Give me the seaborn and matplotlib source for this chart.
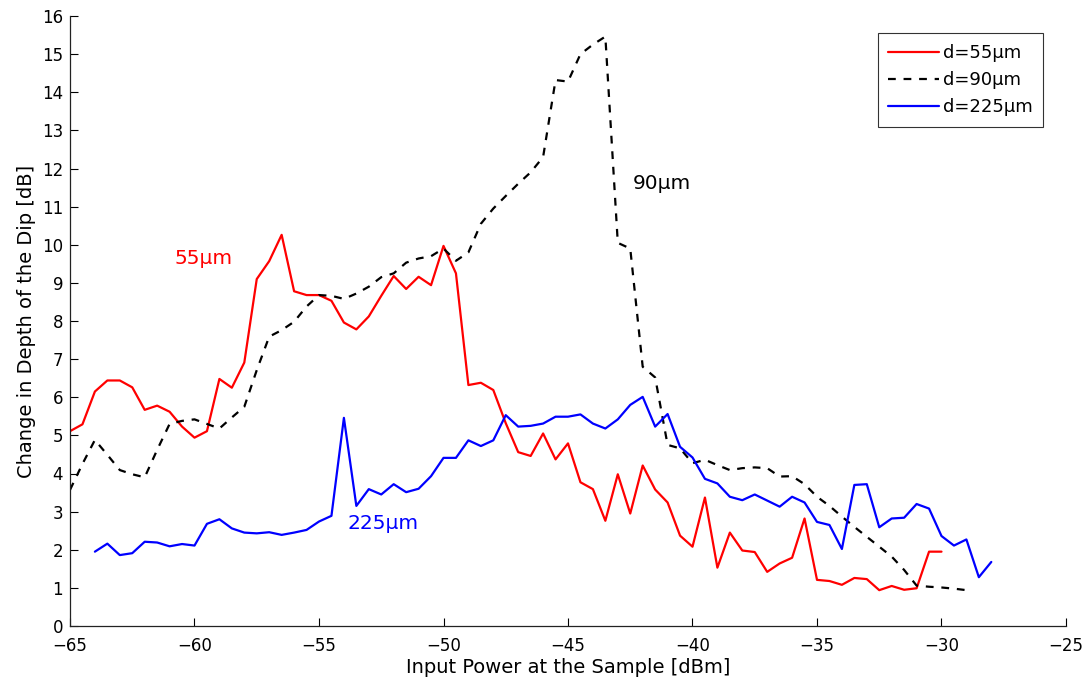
import numpy as np
import pandas as pd
import matplotlib
matplotlib.use("Agg")
import matplotlib.pyplot as plt
import seaborn as sns

# ---------------- data ----------------
x_55 = [-65, -64.5, -64, -63.5, -63, -62.5, -62, -61.5, -61, -60.5, -60, -59.5, -59, -58.5,
        -58, -57.5, -57, -56.5, -56, -55.5, -55, -54.5, -54, -53.5, -53, -52.5, -52, -51.5,
        -51, -50.5, -50, -49.5, -49, -48.5, -48, -47.5, -47, -46.5, -46, -45.5, -45, -44.5,
        -44, -43.5, -43, -42.5, -42, -41.5, -41, -40.5, -40, -39.5, -39, -38.5, -38, -37.5,
        -37, -36.5, -36, -35.5, -35, -34.5, -34, -33.5, -33, -32.5, -32, -31.5, -31, -30.5, -30]
y_55 = [5.11, 5.29, 6.15, 6.44, 6.44, 6.26, 5.67, 5.78, 5.62, 5.23, 4.94, 5.11, 6.48, 6.25,
        6.91, 9.10, 9.57, 10.26, 8.78, 8.68, 8.68, 8.53, 7.96, 7.78, 8.12, 8.66, 9.18, 8.84,
        9.16, 8.94, 9.97, 9.25, 6.32, 6.38, 6.19, 5.32, 4.56, 4.46, 5.05, 4.37, 4.79, 3.77,
        3.59, 2.76, 3.98, 2.95, 4.21, 3.58, 3.24, 2.37, 2.08, 3.37, 1.53, 2.45, 1.98, 1.94,
        1.42, 1.64, 1.79, 2.82, 1.21, 1.18, 1.08, 1.26, 1.23, 0.94, 1.05, 0.95, 0.99, 1.95, 1.95]

x_90 = [-65, -64.5, -64, -63.5, -63, -62.5, -62, -61.5, -61, -60.5, -60, -59.5, -59, -58.5,
        -58, -57.5, -57, -56.5, -56, -55.5, -55, -54.5, -54, -53.5, -53, -52.5, -52, -51.5,
        -51, -50.5, -50, -49.5, -49, -48.5, -48, -47.5, -47, -46.5, -46, -45.5, -45, -44.5,
        -44, -43.5, -43, -42.5, -42, -41.5, -41, -40.5, -40, -39.5, -39, -38.5, -38, -37.5,
        -37, -36.5, -36, -35.5, -35, -34.5, -34, -33.5, -33, -32.5, -32, -31.5, -31, -30.5,
        -30, -29.5, -29]
y_90 = [3.57, 4.25, 4.88, 4.49, 4.09, 3.98, 3.90, 4.62, 5.30, 5.38, 5.42, 5.30, 5.18, 5.47,
        5.75, 6.71, 7.59, 7.76, 7.98, 8.38, 8.68, 8.66, 8.58, 8.72, 8.90, 9.15, 9.25, 9.53,
        9.64, 9.70, 9.90, 9.58, 9.80, 10.55, 10.95, 11.28, 11.60, 11.90, 12.30, 14.32, 14.28, 15.00,
        15.25, 15.46, 10.05, 9.90, 6.80, 6.52, 4.75, 4.66, 4.27, 4.36, 4.22, 4.09, 4.14, 4.16,
        4.14, 3.92, 3.93, 3.72, 3.39, 3.15, 2.87, 2.60, 2.34, 2.08, 1.82, 1.47, 1.06, 1.03,
        1.01, 0.98, 0.94]

x_225 = [-64, -63.5, -63, -62.5, -62, -61.5, -61, -60.5, -60, -59.5, -59, -58.5, -58, -57.5,
         -57, -56.5, -56, -55.5, -55, -54.5, -54, -53.5, -53, -52.5, -52, -51.5, -51, -50.5,
         -50, -49.5, -49, -48.5, -48, -47.5, -47, -46.5, -46, -45.5, -45, -44.5, -44, -43.5,
         -43, -42.5, -42, -41.5, -41, -40.5, -40, -39.5, -39, -38.5, -38, -37.5, -37, -36.5,
         -36, -35.5, -35, -34.5, -34, -33.5, -33, -32.5, -32, -31.5, -31, -30.5, -30, -29.5,
         -29, -28.5, -28]
y_225 = [1.95, 2.16, 1.86, 1.91, 2.21, 2.19, 2.09, 2.15, 2.11, 2.68, 2.80, 2.56, 2.45, 2.43,
         2.46, 2.39, 2.45, 2.52, 2.74, 2.89, 5.46, 3.15, 3.59, 3.45, 3.72, 3.51, 3.60, 3.93,
         4.41, 4.41, 4.87, 4.72, 4.87, 5.53, 5.23, 5.25, 5.31, 5.49, 5.49, 5.55, 5.31, 5.18,
         5.42, 5.80, 6.01, 5.23, 5.56, 4.70, 4.42, 3.86, 3.74, 3.39, 3.30, 3.45, 3.29, 3.13,
         3.39, 3.24, 2.73, 2.65, 2.02, 3.70, 3.72, 2.59, 2.82, 2.84, 3.20, 3.08, 2.36, 2.11,
         2.27, 1.28, 1.68]

legend_labels = ["d=55\u00b5m", "d=90\u00b5m", "d=225\u00b5m"]
annot_texts = ["55\u00b5m", "90\u00b5m", "225\u00b5m"]
annot_x = [-60.8, -42.4, -53.85]
annot_y = [9.65, 11.6, 2.7]
x_ticks = [-65, -60, -55, -50, -45, -40, -35, -30, -25]
y_ticks = list(range(0, 17))

# ---------------- style ----------------
sns.set_style("ticks")
plt.rcParams['font.family'] = ['DejaVu Sans']
plt.rcParams['xtick.direction'] = 'in'
plt.rcParams['ytick.direction'] = 'in'
plt.rcParams['text.color'] = 'black'
plt.rcParams['axes.labelcolor'] = 'black'
plt.rcParams['xtick.color'] = 'black'
plt.rcParams['ytick.color'] = 'black'

fig = plt.figure(figsize=(10.9, 6.84), dpi=100)
ax = fig.add_axes([70 / 1090, 1 - 626 / 684, 996 / 1090, 610 / 684])

colors = ["#ff0000", "#000000", "#0000ff"]
df55 = pd.DataFrame({"x": x_55, "y": y_55})
df90 = pd.DataFrame({"x": x_90, "y": y_90})
df225 = pd.DataFrame({"x": x_225, "y": y_225})

sns.lineplot(data=df55, x="x", y="y", ax=ax, color=colors[0], lw=1.6, label=legend_labels[0])
sns.lineplot(data=df90, x="x", y="y", ax=ax, color=colors[1], lw=1.6, label=legend_labels[1])
sns.lineplot(data=df225, x="x", y="y", ax=ax, color=colors[2], lw=1.6, label=legend_labels[2])
ax.lines[1].set_dashes([3.5, 3.5])

ax.set_xlim(-65, -25)
ax.set_ylim(0, 16)
ax.set_xticks(x_ticks)
ax.set_yticks(y_ticks)
ax.tick_params(axis='both', labelsize=12, length=6, width=0.8, colors='black')
ax.tick_params(axis='x', pad=8)
ax.tick_params(axis='y', pad=5)
for s in ['top', 'right']:
    ax.spines[s].set_visible(False)
for s in ['left', 'bottom']:
    ax.spines[s].set_color('#222222')
    ax.spines[s].set_linewidth(0.9)

ax.set_xlabel("Input Power at the Sample [dBm]", fontsize=14, labelpad=2)
ax.set_ylabel("Change in Depth of the Dip [dB]", fontsize=14, labelpad=4)

for t, xx, yy, c in zip(annot_texts, annot_x, annot_y, colors):
    ax.text(xx, yy, t, color=c, fontsize=14.5, ha='left', va='center')

leg = ax.legend(loc='upper right', bbox_to_anchor=(0.977, 0.972), borderaxespad=0,
                fontsize=13, frameon=True, fancybox=False, handlelength=2.8,
                handletextpad=0.2, borderpad=0.6, labelspacing=0.5)
leg.get_frame().set_edgecolor('black')
leg.get_frame().set_linewidth(0.8)
for t in leg.get_texts():
    t.set_color('black')

fig.savefig("out.png", dpi=100)
